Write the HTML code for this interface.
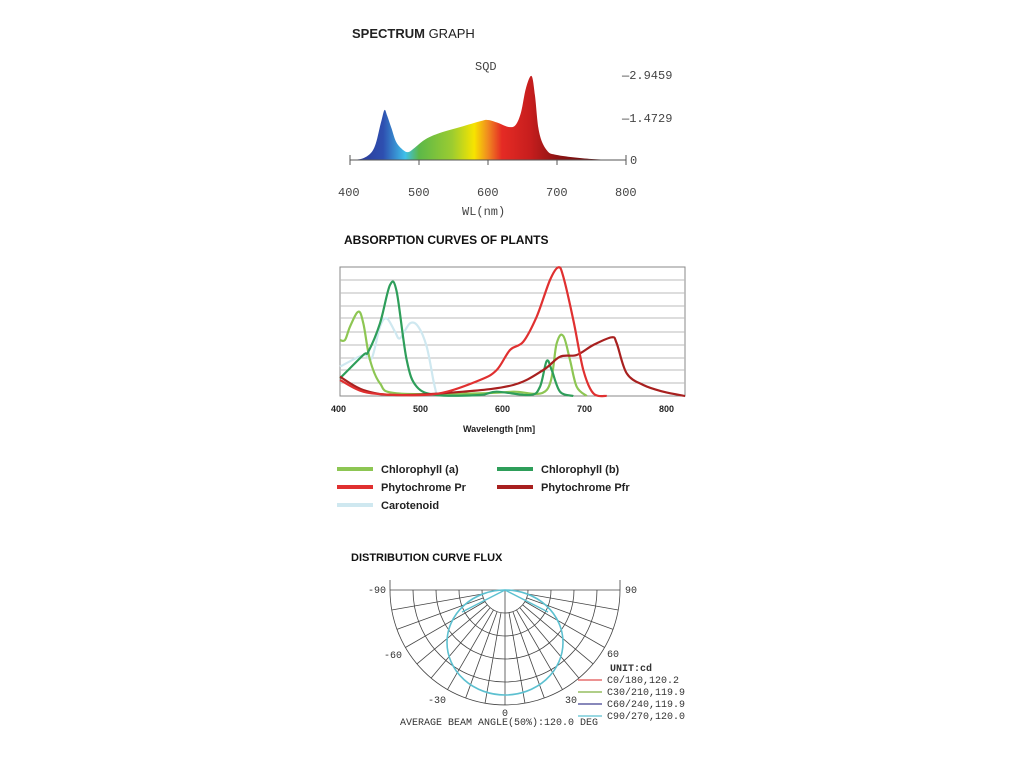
<!DOCTYPE html>
<html><head><meta charset="utf-8"><style>
html,body{margin:0;padding:0;background:#fff;}
svg{display:block}
.s{font-family:"Liberation Sans",sans-serif}
.m{font-family:"Liberation Mono",monospace}
</style></head><body>
<svg id="g" width="1024" height="768" viewBox="0 0 1024 768" xmlns="http://www.w3.org/2000/svg">
<defs>
<linearGradient id="sp" x1="350" x2="626" y1="0" y2="0" gradientUnits="userSpaceOnUse">
<stop offset="0" stop-color="#2a3590"/>
<stop offset="0.12" stop-color="#2e4fb0"/>
<stop offset="0.2" stop-color="#3fc0ea"/>
<stop offset="0.25" stop-color="#5cb848"/>
<stop offset="0.37" stop-color="#9ccc30"/>
<stop offset="0.45" stop-color="#f7e400"/>
<stop offset="0.5" stop-color="#f08a20"/>
<stop offset="0.55" stop-color="#e52b24"/>
<stop offset="0.65" stop-color="#c81e1e"/>
<stop offset="0.75" stop-color="#8e1414"/>
<stop offset="1" stop-color="#4a0808"/>
</linearGradient>
</defs>
<text x="352" y="38" class="s" font-size="13" fill="#222"><tspan font-weight="bold">SPECTRUM</tspan> GRAPH</text>
<text x="475" y="70" class="m" font-size="12" fill="#444">SQD</text>
<path id="spec" fill="url(#sp)"/>
<g stroke="#555" stroke-width="1" fill="none">
<line x1="350" y1="160" x2="626" y2="160"/>
<line x1="350" y1="155" x2="350" y2="165"/><line x1="419" y1="160" x2="419" y2="165"/><line x1="488" y1="160" x2="488" y2="165"/><line x1="557" y1="160" x2="557" y2="165"/><line x1="626" y1="155" x2="626" y2="165"/>
</g>
<g class="m" font-size="12" fill="#444">
<text x="622" y="79">—2.9459</text><text x="622" y="122">—1.4729</text><text x="630" y="164">0</text>
<text x="338" y="196">400</text><text x="408" y="196">500</text><text x="477" y="196">600</text><text x="546" y="196">700</text><text x="615" y="196">800</text>
<text x="462" y="215">WL(nm)</text>
</g>
<text x="344" y="244" class="s" font-size="12" font-weight="bold" fill="#111">ABSORPTION CURVES OF PLANTS</text>
<rect x="340" y="267" width="345" height="129" fill="#fff" stroke="#888" stroke-width="1"/>
<g stroke="#bbb" stroke-width="1" id="grid"></g>
<g id="curves" fill="none" stroke-width="2.2" stroke-linejoin="round"></g>
<g class="s" font-size="9" font-weight="bold" fill="#222">
<text x="331" y="412">400</text><text x="413" y="412">500</text><text x="495" y="412">600</text><text x="577" y="412">700</text><text x="659" y="412">800</text>
<text x="463" y="432">Wavelength [nm]</text>
</g>
<g stroke-width="4">
<line x1="337" y1="469" x2="373" y2="469" stroke="#8dc653"/>
<line x1="497" y1="469" x2="533" y2="469" stroke="#2e9e5a"/>
<line x1="337" y1="487" x2="373" y2="487" stroke="#e03030"/>
<line x1="497" y1="487" x2="533" y2="487" stroke="#a8201f"/>
<line x1="337" y1="505" x2="373" y2="505" stroke="#cfe8f0"/>
</g>
<g class="s" font-size="11" font-weight="bold" fill="#222">
<text x="381" y="473">Chlorophyll (a)</text><text x="541" y="473">Chlorophyll (b)</text>
<text x="381" y="491">Phytochrome Pr</text><text x="541" y="491">Phytochrome Pfr</text>
<text x="381" y="509">Carotenoid</text>
</g>
<text x="351" y="561" class="s" font-size="11" font-weight="bold" fill="#111">DISTRIBUTION CURVE FLUX</text>
<g id="polar" stroke="#444" stroke-width="0.8" fill="none"></g>
<ellipse cx="505" cy="642.5" rx="58" ry="52.5" fill="none" stroke="#5cc0d0" stroke-width="1.6"/>
<path d="M505 590 L462 612 M505 590 L548 612" stroke="#5cc0d0" stroke-width="1.4" fill="none"/>
<g class="m" font-size="10" fill="#333">
<text x="368" y="593">-90</text><text x="625" y="593">90</text>
<text x="384" y="658">-60</text><text x="607" y="657">60</text>
<text x="428" y="703">-30</text><text x="565" y="703">30</text>
<text x="502" y="716">0</text>
<text x="400" y="725">AVERAGE BEAM ANGLE(50%):120.0 DEG</text>
<text x="610" y="671" font-weight="bold">UNIT:cd</text>
<text x="607" y="683">C0/180,120.2</text>
<text x="607" y="695">C30/210,119.9</text>
<text x="607" y="707">C60/240,119.9</text>
<text x="607" y="719">C90/270,120.0</text>
</g>
<g stroke-width="1.2">
<line x1="578" y1="680" x2="602" y2="680" stroke="#e05050"/>
<line x1="578" y1="692" x2="602" y2="692" stroke="#80b040"/>
<line x1="578" y1="704" x2="602" y2="704" stroke="#404090"/>
<line x1="578" y1="716" x2="602" y2="716" stroke="#5cc0d0"/>
</g>
</svg>
<script>
var NS="http://www.w3.org/2000/svg";
function el(t,a,p){var e=document.createElementNS(NS,t);for(var k in a)e.setAttribute(k,a[k]);p.appendChild(e);return e;}
function smooth(P){var s="M"+P[0][0].toFixed(1)+" "+P[0][1].toFixed(1);for(var i=0;i<P.length-1;i++){var p0=P[i?i-1:0],p1=P[i],p2=P[i+1],p3=P[i+2<P.length?i+2:i+1];var c1x=p1[0]+(p2[0]-p0[0])/6,c1y=p1[1]+(p2[1]-p0[1])/6,c2x=p2[0]-(p3[0]-p1[0])/6,c2y=p2[1]-(p3[1]-p1[1])/6;s+=" C"+c1x.toFixed(1)+" "+c1y.toFixed(1)+" "+c2x.toFixed(1)+" "+c2y.toFixed(1)+" "+p2[0].toFixed(1)+" "+p2[1].toFixed(1);}return s;}
var sp=[[400,160],[420,158],[435,148],[445,122],[450,110],[454,116],[460,128],[467,142],[477,150],[485,152],[495,147],[510,139],[530,133],[560,127],[590,121],[600,120],[615,123],[630,127],[640,125],[648,112],[655,88],[663,76],[668,95],[674,132],[685,150],[700,155],[750,159],[800,160]];
var P=sp.map(function(p){return[350+(p[0]-400)*0.69,p[1]];});
document.getElementById("spec").setAttribute("d",smooth(P)+" L350 160 Z");
var g=document.getElementById("grid");
[280,293,306,318,332,345,358,370,383].forEach(function(y){el("line",{x1:340,x2:685,y1:y,y2:y},g);});
function cv(pts,col){var Q=pts.map(function(p){return[330+p[0]/3,260+p[1]/3];});el("path",{d:smooth(Q),stroke:col},document.getElementById("curves"));}
cv([[30,320],[100,285],[125,295],[150,200],[170,175],[195,215],[210,235],[240,190],[265,200],[290,260],[310,360],[320,405]],"#cfe8f0");
cv([[30,240],[45,240],[60,200],[85,155],[100,190],[120,300],[150,370],[200,400],[450,400],[550,395],[650,390],[680,250],[700,228],[720,300],[740,380],[770,408]],"#8dc653");
cv([[30,355],[100,285],[115,275],[150,190],[180,75],[200,95],[230,300],[260,380],[320,405],[450,405],[500,395],[600,405],[630,380],[650,303],[665,330],[690,395],[730,408]],"#2e9e5a");
cv([[30,350],[100,390],[200,405],[400,395],[550,375],[640,330],[690,290],[740,285],[790,255],[845,232],[860,250],[890,340],[940,375],[1000,395],[1065,408]],"#a8201f");
cv([[30,360],[100,395],[200,405],[330,400],[450,360],[500,330],[540,270],[580,245],[620,170],[660,60],[685,22],[700,50],[730,180],[760,330],[790,400],[830,408]],"#e03030");
var Pp=document.getElementById("polar"),cx=505,cy=590,R=115;
el("line",{x1:390,y1:cy,x2:620,y2:cy},Pp);
el("line",{x1:cx,y1:cy,x2:cx,y2:cy+R},Pp);
[23,46,69,92,115].forEach(function(r){el("path",{d:"M"+(cx-r)+" "+cy+" A"+r+" "+r+" 0 0 0 "+(cx+r)+" "+cy},Pp);});
for(var a=10;a<180;a+=10){if(a==90)continue;var t=a*Math.PI/180;el("line",{x1:cx+23*Math.cos(t),y1:cy+23*Math.sin(t),x2:cx+R*Math.cos(t),y2:cy+R*Math.sin(t)},Pp);}
el("line",{x1:390,y1:580,x2:390,y2:cy},Pp);el("line",{x1:620,y1:580,x2:620,y2:cy},Pp);
</script>
</body></html>
